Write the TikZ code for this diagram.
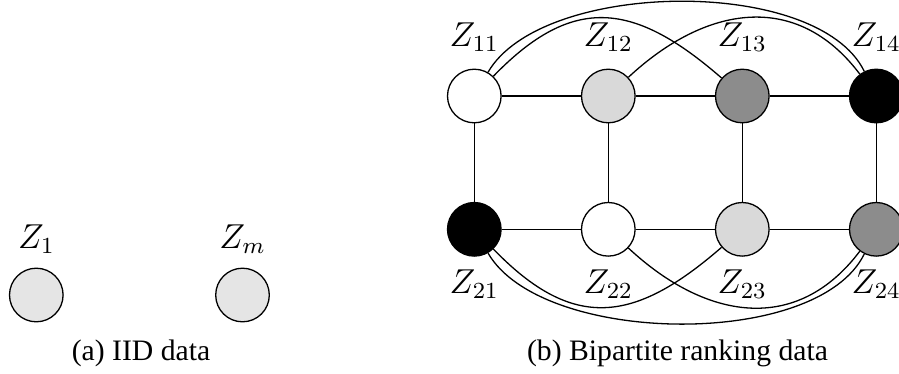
\documentclass[tikz,border=0pt]{standalone}
\usepackage[no-math]{fontspec}
\newfontfamily\capfont{Liberation Serif}
\begin{document}
\begin{tikzpicture}[x=0.347pt,y=-0.347pt,
  vtx/.style={circle,draw=black,line width=0.45pt,inner sep=0pt,minimum size=18.6pt},
  lbl/.style={anchor=base,inner sep=0pt,font=\fontsize{12}{14}\selectfont},
  captxt/.style={anchor=base,inner sep=0pt,font=\capfont\fontsize{10.3}{12}\selectfont},
  lnk/.style={line width=0.45pt}]
\useasboundingbox (0,0) rectangle (899,373);
% (a) IID data
\node[vtx,fill=black!10] (Z1) at (36.3,295) {};
\node[vtx,fill=black!10] (Zm) at (242.5,295) {};
\node[lbl] (L1) at (36.5,248.3) {$Z_1$};
\node[lbl] (Lm) at (242.5,248.3) {$Z_m$};
\node[captxt] (capa) at (141,360.5) {(a) IID data};
% (b) bipartite ranking data
\node[vtx,fill=white]    (Z11) at (474.3,96) {};
\node[vtx,fill=black!15] (Z12) at (608.3,96) {};
\node[vtx,fill=black!45] (Z13) at (742.3,96) {};
\node[vtx,fill=black]    (Z14) at (876.3,96) {};
\node[vtx,fill=black]    (Z21) at (474.3,229.3) {};
\node[vtx,fill=white]    (Z22) at (608.3,229.3) {};
\node[vtx,fill=black!15] (Z23) at (742.3,229.3) {};
\node[vtx,fill=black!45] (Z24) at (876.3,229.3) {};
\node[lbl] (L11) at (474.3,46.7) {$Z_{11}$};
\node[lbl] (L12) at (608.3,46.7) {$Z_{12}$};
\node[lbl] (L13) at (742.3,46.7) {$Z_{13}$};
\node[lbl] (L14) at (876.3,46.7) {$Z_{14}$};
\node[lbl] (L21) at (474.3,293.3) {$Z_{21}$};
\node[lbl] (L22) at (608.3,293.3) {$Z_{22}$};
\node[lbl] (L23) at (742.3,293.3) {$Z_{23}$};
\node[lbl] (L24) at (876.3,293.3) {$Z_{24}$};
\node[captxt] (capb) at (677.5,360.5) {(b) Bipartite ranking data};
% straight edges
\draw[lnk] (Z11) -- (Z12) (Z12) -- (Z13) (Z13) -- (Z14);
\draw[lnk] (Z21) -- (Z22) (Z22) -- (Z23) (Z23) -- (Z24);
\draw[lnk] (Z11) -- (Z21) (Z12) -- (Z22) (Z13) -- (Z23) (Z14) -- (Z24);
% curved edges, top row
\draw[lnk] (Z11) to[out=46,in=139,distance=40pt] (Z13);
\draw[lnk] (Z12) to[out=43,in=127,distance=36.5pt] (Z14);
\draw[lnk] (Z11) to[out=60,in=116,distance=37pt] (Z14);
% curved edges, bottom row
\draw[lnk] (Z21) to[out=-46,in=-139,distance=40pt] (Z23);
\draw[lnk] (Z22) to[out=-43,in=-127,distance=36.5pt] (Z24);
\draw[lnk] (Z21) to[out=-60,in=-116,distance=37pt] (Z24);
\end{tikzpicture}
\end{document}
